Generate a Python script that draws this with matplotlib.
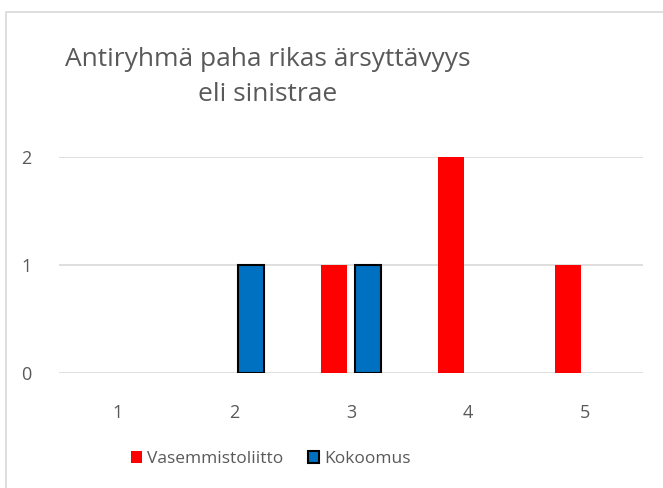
import numpy as np
import matplotlib.pyplot as plt
from matplotlib.patches import Patch, Rectangle

categories = ["1", "2", "3", "4", "5"]
vasemmistoliitto = [0, 0, 1, 2, 1]
kokoomus = [0, 1, 1, 0, 0]
series_names = ["Vasemmistoliitto", "Kokoomus"]
title = "Antiryhmä paha rikas ärsyttävyys\neli sinistrae"

plt.rcParams['font.family'] = ['Open Sans', 'DejaVu Sans']
gray = '#595959'

fig = plt.figure(figsize=(6.63, 4.88), dpi=100)
# chart area frame (cut off at right/bottom)
fig.patches.append(Rectangle((6 / 663, -0.05), 1.2, 1 - 12 / 488 + 0.05,
                             transform=fig.transFigure, fill=False,
                             edgecolor='#d9d9d9', linewidth=1.2))

ax = fig.add_axes([59 / 663, 115 / 488, 584 / 663, 216 / 488])
x = np.arange(len(categories))
w = 0.22
off = 0.145
lw_k = [1.5 if v else 0 for v in kokoomus]
ax.bar(x - off, vasemmistoliitto, w, color='#FF0000', linewidth=0, zorder=3)
ax.bar(x + off, kokoomus, w, color='#0070C0', edgecolor='black',
       linewidth=lw_k, zorder=3)

ax.set_xlim(-0.5, len(categories) - 0.5)
ax.set_ylim(0, 2)
ax.set_yticks([0, 1, 2])
ax.set_xticks(x)
ax.set_xticklabels(categories)
ax.grid(axis='y', color='#d9d9d9', linewidth=1.2, zorder=0)
for s in ax.spines.values():
    s.set_visible(False)
ax.tick_params(length=0, labelsize=13, labelcolor=gray)
ax.tick_params(axis='y', pad=20)
ax.tick_params(axis='x', pad=22)

fig.text(268 / 663, 1 - 77 / 488, title, ha='center', va='center',
         multialignment='center', fontsize=19, color=gray, linespacing=1.5)

handles = [Patch(facecolor='#FF0000', edgecolor='none'),
           Patch(facecolor='#0070C0', edgecolor='black', linewidth=1.5)]
fig.legend(handles, series_names, loc='center', bbox_to_anchor=(271 / 663, 1 - 459 / 488),
           ncol=2, frameon=False, fontsize=12.5, labelcolor=gray,
           handlelength=0.65, handleheight=0.65, handletextpad=0.3, columnspacing=1.4)

fig.savefig('out.png', dpi=100)
